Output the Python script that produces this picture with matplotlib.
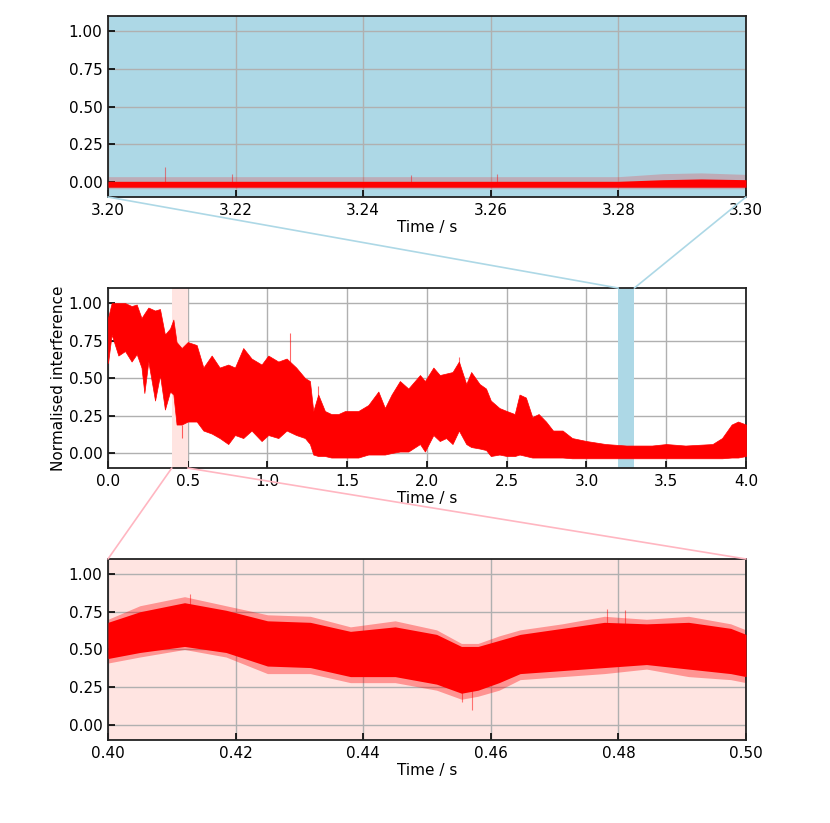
import matplotlib
matplotlib.use("Agg")
import matplotlib.pyplot as plt
from matplotlib.patches import ConnectionPatch

plt.rcParams['font.family'] = ['DejaVu Sans']
plt.rcParams['font.size'] = 11

# ---------------- data (envelopes) ----------------
# middle panel: full record 0-4 s
mid_t = [0.0, 0.023, 0.065, 0.107, 0.148, 0.18, 0.21, 0.228, 0.253, 0.295, 0.326,
         0.357, 0.389, 0.41, 0.43, 0.462, 0.5, 0.556, 0.598, 0.65, 0.70, 0.754,
         0.796, 0.848, 0.90, 0.963, 1.005, 1.068, 1.12, 1.18, 1.235, 1.266, 1.287,
         1.318, 1.36, 1.40, 1.444, 1.486, 1.527, 1.569, 1.632, 1.695, 1.736, 1.778,
         1.83, 1.883, 1.956, 1.987, 2.04, 2.08, 2.12, 2.16, 2.20, 2.246, 2.277,
         2.33, 2.37, 2.40, 2.454, 2.5, 2.55, 2.58, 2.62, 2.66, 2.70, 2.746, 2.79,
         2.85, 2.91, 3.0, 3.12, 3.25, 3.41, 3.5, 3.62, 3.79, 3.85, 3.91, 3.95, 4.0]
mid_hi = [0.90, 1.00, 1.00, 1.00, 0.98, 0.99, 0.90, 0.93, 0.97, 0.95, 0.96,
          0.79, 0.83, 0.89, 0.74, 0.70, 0.74, 0.72, 0.57, 0.65, 0.57, 0.59,
          0.57, 0.70, 0.63, 0.59, 0.65, 0.61, 0.63, 0.57, 0.50, 0.48, 0.28,
          0.39, 0.28, 0.26, 0.26, 0.28, 0.28, 0.28, 0.32, 0.41, 0.30, 0.39,
          0.48, 0.43, 0.52, 0.48, 0.57, 0.52, 0.53, 0.54, 0.61, 0.46, 0.54,
          0.46, 0.43, 0.35, 0.30, 0.28, 0.26, 0.39, 0.37, 0.24, 0.26, 0.21, 0.15,
          0.15, 0.10, 0.08, 0.06, 0.05, 0.05, 0.06, 0.05, 0.06, 0.10, 0.19, 0.21, 0.19]
mid_lo = [0.60, 0.79, 0.65, 0.68, 0.61, 0.66, 0.57, 0.40, 0.61, 0.35, 0.52,
          0.29, 0.41, 0.39, 0.19, 0.19, 0.21, 0.21, 0.15, 0.13, 0.10, 0.06,
          0.12, 0.10, 0.15, 0.08, 0.12, 0.10, 0.15, 0.12, 0.10, 0.06, -0.01,
          -0.02, -0.02, -0.03, -0.03, -0.03, -0.03, -0.03, -0.01, -0.01, -0.01, 0.00,
          0.01, 0.01, 0.06, 0.01, 0.12, 0.08, 0.10, 0.06, 0.15, 0.06, 0.04,
          0.03, 0.02, -0.02, -0.01, -0.02, -0.02, -0.01, -0.02, -0.03, -0.03, -0.03, -0.03,
          -0.03, -0.035, -0.035, -0.035, -0.035, -0.035, -0.035, -0.035, -0.035, -0.035, -0.03, -0.03, -0.02]
mid_spike_t = [1.143, 0.462, 2.2, 1.318]
mid_spike_lo = [0.40, 0.19, 0.40, 0.10]
mid_spike_hi = [0.80, 0.10, 0.64, 0.45]

# bottom panel: zoom 0.40-0.50 s
bot_t = [0.400, 0.405, 0.412, 0.4185, 0.425, 0.4317, 0.438, 0.445, 0.4515, 0.4554,
         0.458, 0.4613, 0.4646, 0.4712, 0.4778, 0.4844, 0.491, 0.4976, 0.500]
bot_hi = [0.70, 0.79, 0.85, 0.79, 0.73, 0.72, 0.65, 0.69, 0.63, 0.54,
          0.54, 0.59, 0.63, 0.67, 0.72, 0.70, 0.72, 0.67, 0.63]
bot_lo = [0.41, 0.45, 0.50, 0.45, 0.34, 0.34, 0.28, 0.28, 0.23, 0.17,
          0.19, 0.23, 0.30, 0.32, 0.34, 0.37, 0.32, 0.30, 0.28]
bot_core_hi = [0.68, 0.75, 0.81, 0.76, 0.69, 0.68, 0.62, 0.65, 0.60, 0.52,
               0.52, 0.56, 0.60, 0.64, 0.68, 0.67, 0.68, 0.64, 0.60]
bot_core_lo = [0.44, 0.48, 0.52, 0.48, 0.39, 0.38, 0.32, 0.32, 0.27, 0.21,
               0.23, 0.28, 0.34, 0.36, 0.38, 0.40, 0.37, 0.34, 0.32]
bot_spike_t = [0.4128, 0.4555, 0.4570, 0.4782, 0.4810]
bot_spike_lo = [0.70, 0.25, 0.25, 0.60, 0.60]
bot_spike_hi = [0.87, 0.15, 0.10, 0.77, 0.76]

# top panel: zoom 3.20-3.30 s
top_t = [3.200, 3.220, 3.240, 3.260, 3.280, 3.287, 3.293, 3.300]
top_hi = [0.035, 0.035, 0.035, 0.035, 0.035, 0.055, 0.06, 0.05]
top_lo = [-0.045, -0.045, -0.045, -0.045, -0.045, -0.045, -0.045, -0.045]
top_core_hi = [0.004, 0.004, 0.004, 0.004, 0.004, 0.015, 0.02, 0.015]
top_core_lo = [-0.035, -0.035, -0.035, -0.035, -0.035, -0.035, -0.035, -0.035]
top_spike_t = [3.209, 3.2195, 3.2475, 3.261]
top_spike_v = [0.097, 0.05, 0.045, 0.05]

# ranges
full_range = (0.0, 4.0)
zoom_blue = (3.2, 3.3)
zoom_pink = (0.4, 0.5)
yrange = (-0.1, 1.1)
yticks = [0.0, 0.25, 0.5, 0.75, 1.0]

BLUE = '#add8e6'
PINK_BG = '#ffe4e1'
PINK_LINE = '#ffb6c1'

fig = plt.figure(figsize=(8.3, 8.23), dpi=100)
L, W = 0.1301, 0.7687
ax_top = fig.add_axes([L, 0.7606, W, 0.2199])
ax_mid = fig.add_axes([L, 0.4313, W, 0.2187])
ax_bot = fig.add_axes([L, 0.1009, W, 0.2199])


def style(ax):
    ax.set_ylim(*yrange)
    ax.set_yticks(yticks)
    ax.grid(True, color='#b0b0b0', lw=1.0, zorder=0)
    ax.set_axisbelow(True)
    ax.tick_params(direction='in', length=5, width=1.2, pad=4)
    for s in ax.spines.values():
        s.set_linewidth(1.3)
        s.set_color('#222222')
    ax.set_xlabel('Time / s', labelpad=2)


# top
ax_top.set_facecolor(BLUE)
ax_top.fill_between(top_t, top_lo, top_hi, color='red', alpha=0.2, lw=0, zorder=2)
ax_top.fill_between(top_t, top_core_lo, top_core_hi, color='red', lw=0, zorder=3)
ax_top.vlines(top_spike_t, 0, top_spike_v, color='red', alpha=0.45, lw=0.8, zorder=3)
ax_top.set_xlim(*zoom_blue)
ax_top.set_xticks([3.20, 3.22, 3.24, 3.26, 3.28, 3.30])
ax_top.set_xticklabels(['3.20', '3.22', '3.24', '3.26', '3.28', '3.30'])
style(ax_top)

# middle
ax_mid.axvspan(*zoom_blue, color=BLUE, lw=0, zorder=1)
ax_mid.axvspan(*zoom_pink, color=PINK_BG, lw=0, zorder=1)
ax_mid.fill_between(mid_t, mid_lo, mid_hi, color='red', lw=0.5, zorder=3)
ax_mid.vlines(mid_spike_t, mid_spike_lo, mid_spike_hi, color='red', alpha=0.6, lw=0.8, zorder=3)
ax_mid.set_xlim(*full_range)
ax_mid.set_xticks([0, 0.5, 1.0, 1.5, 2.0, 2.5, 3.0, 3.5, 4.0])
style(ax_mid)
ax_mid.set_ylabel('Normalised interference', labelpad=2)

# bottom
ax_bot.set_facecolor(PINK_BG)
ax_bot.fill_between(bot_t, bot_lo, bot_hi, color='red', alpha=0.35, lw=0, zorder=2)
ax_bot.fill_between(bot_t, bot_core_lo, bot_core_hi, color='red', lw=0, zorder=3)
ax_bot.vlines(bot_spike_t, bot_spike_lo, bot_spike_hi, color='red', alpha=0.5, lw=0.8, zorder=3)
ax_bot.set_xlim(*zoom_pink)
ax_bot.set_xticks([0.40, 0.42, 0.44, 0.46, 0.48, 0.50])
ax_bot.set_xticklabels(['0.40', '0.42', '0.44', '0.46', '0.48', '0.50'])
style(ax_bot)

# connectors
for xa, xb in [(0, zoom_blue[0]), (1, zoom_blue[1])]:
    cp = ConnectionPatch(xyA=(xa, 0), coordsA=ax_top.transAxes,
                         xyB=(xb, yrange[1]), coordsB=ax_mid.transData,
                         color=BLUE, lw=1.2)
    fig.add_artist(cp)
for xa, xb in [(zoom_pink[0], 0), (zoom_pink[1], 1)]:
    cp = ConnectionPatch(xyA=(xa, yrange[0]), coordsA=ax_mid.transData,
                         xyB=(xb, 1), coordsB=ax_bot.transAxes,
                         color=PINK_LINE, lw=1.2)
    fig.add_artist(cp)

fig.savefig('out.png', dpi=100)
